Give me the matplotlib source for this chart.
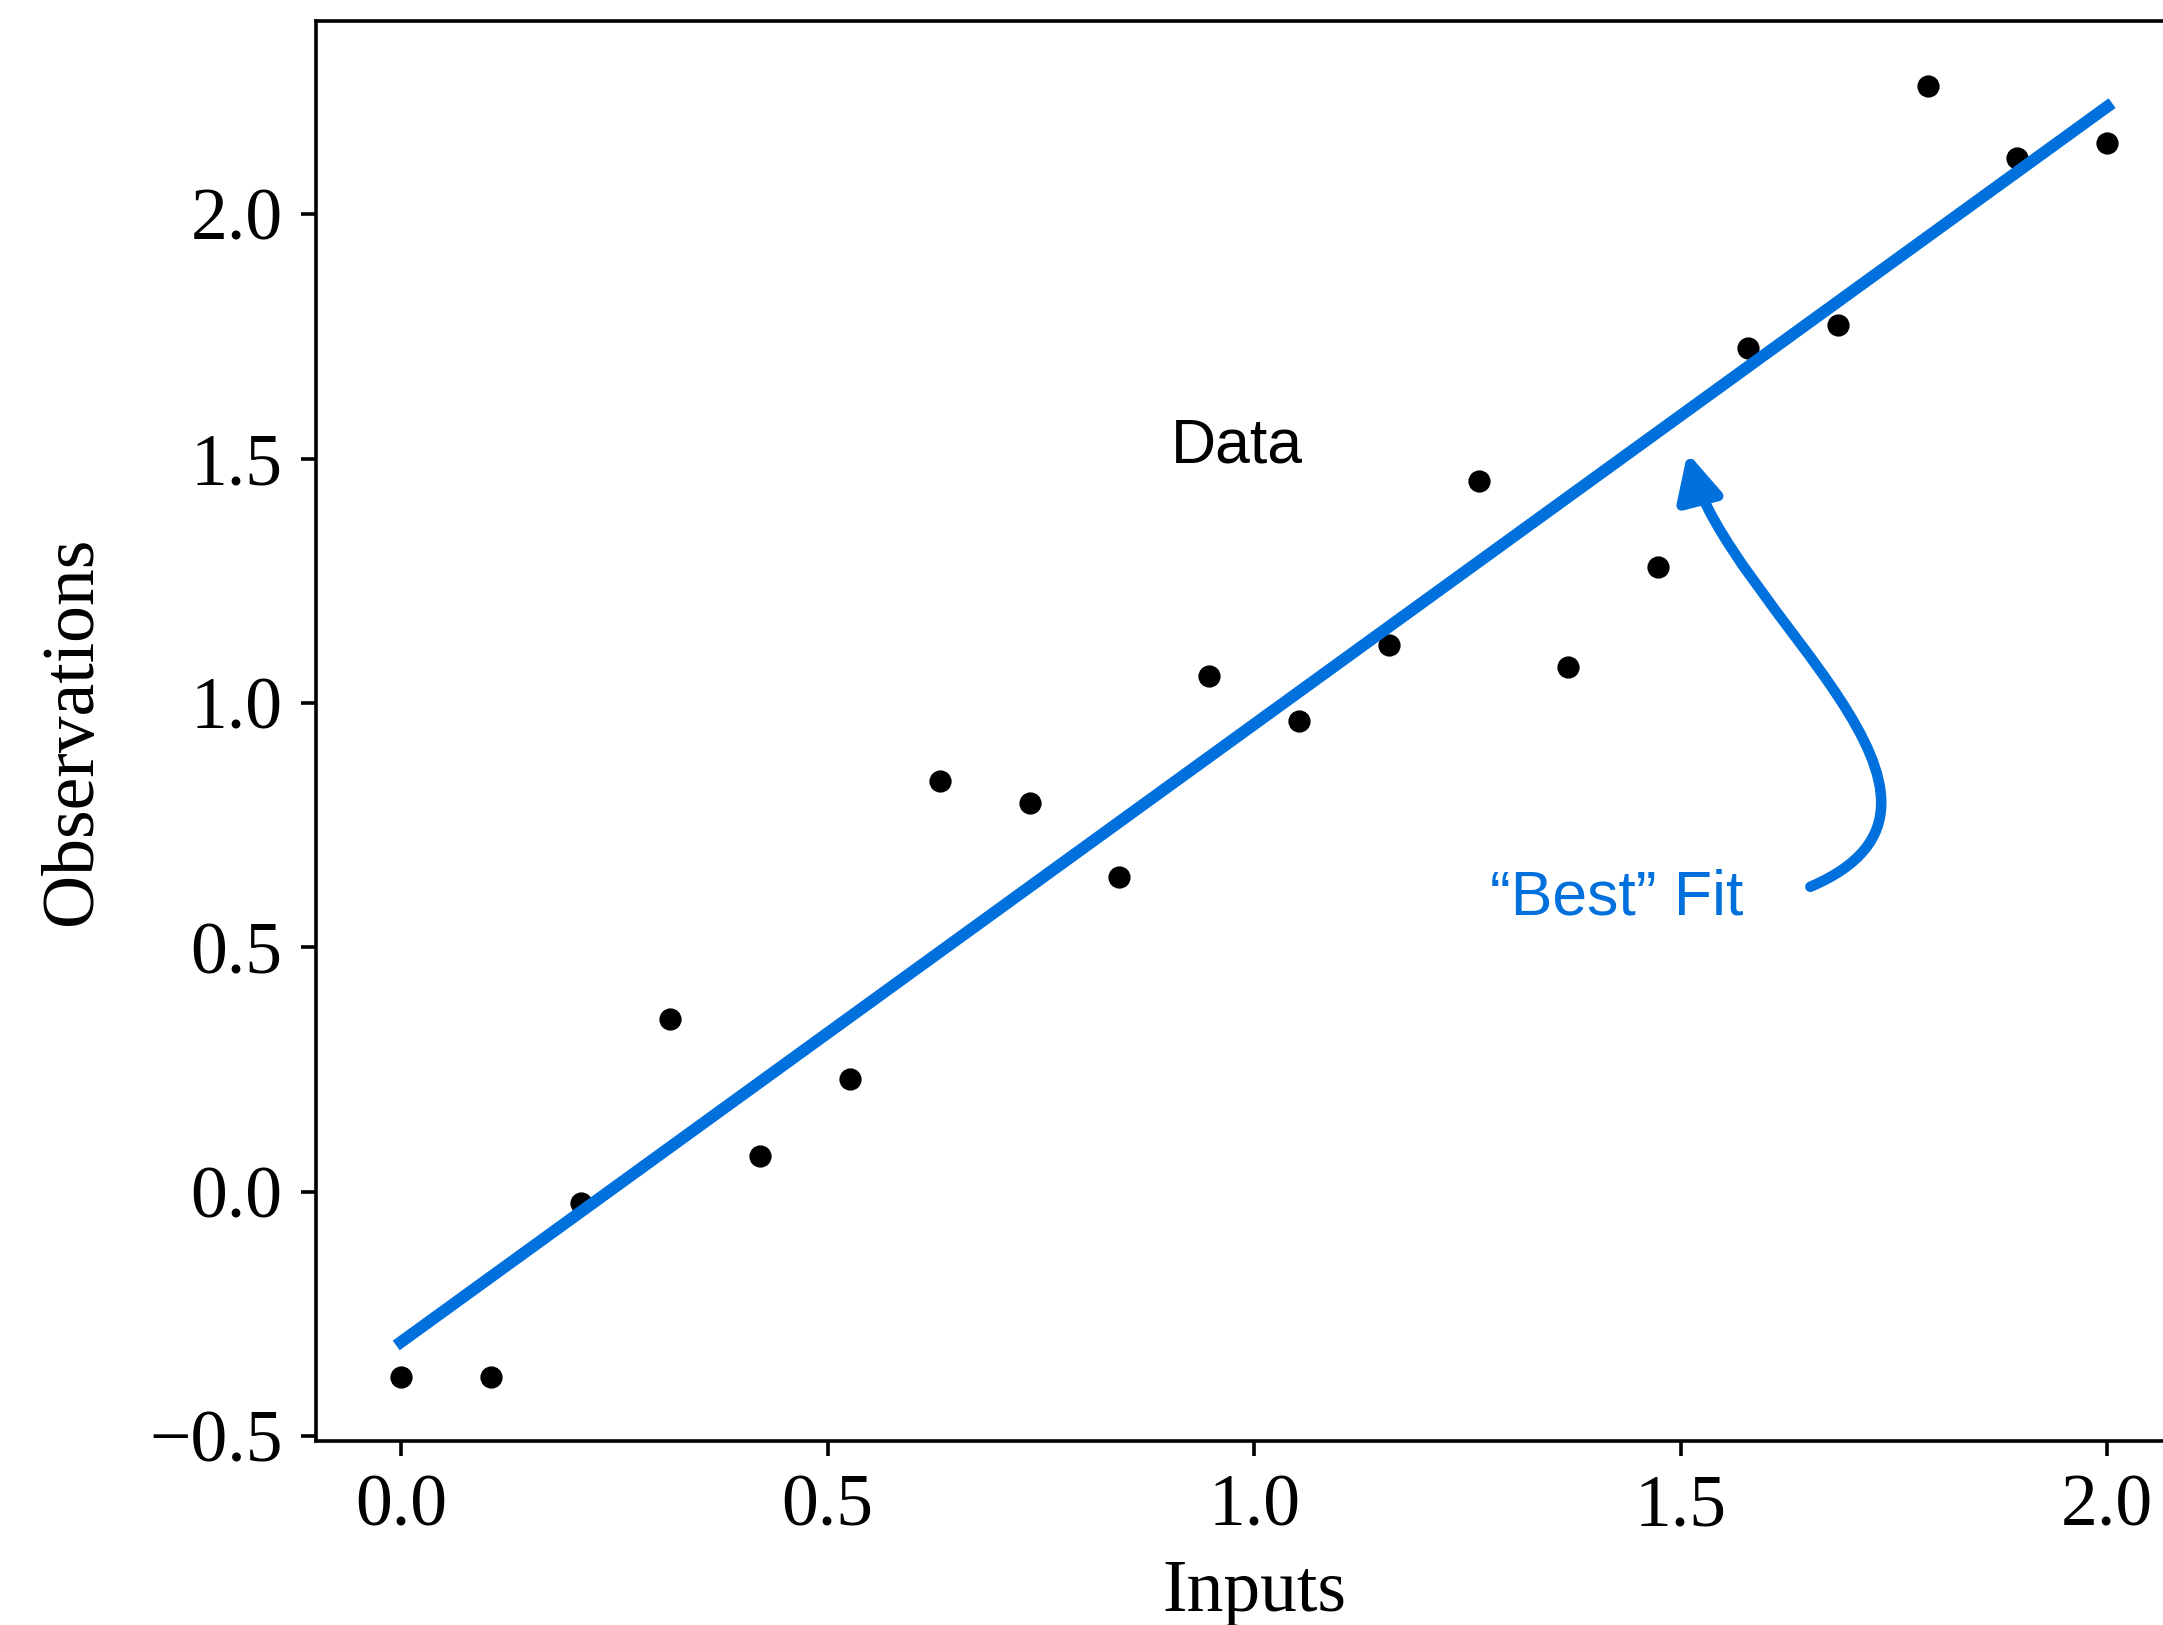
import numpy as np
import matplotlib
matplotlib.use('Agg')
import matplotlib.pyplot as plt
from matplotlib.patches import FancyArrowPatch
from matplotlib.path import Path

# Data
inputs = np.linspace(0, 2, 20)
observations = [-0.378, -0.378, -0.022, 0.354, 0.073, 0.231, 0.840, 0.796,
                0.645, 1.055, 0.963, 1.119, 1.455, 1.074, 1.278, 1.726,
                1.773, 2.262, 2.115, 2.146]
fit_x = [0.0, 2.0]

blue = '#0071DC'

# Least squares fit
slope, intercept = np.polyfit(inputs, observations, 1)
fit_y = [slope * v + intercept for v in fit_x]

plt.rcParams['font.family'] = ['Liberation Serif', 'DejaVu Serif']

fig = plt.figure(figsize=(10.815, 8.125), dpi=200)
# axes runs past the right edge of the figure, like the reference crop
ax = fig.add_axes([0.14596, 0.1132, 0.8677, 0.8738])

ax.plot(inputs, observations, 'o', color='black', markersize=7)
ax.plot(fit_x, fit_y, color=blue, linewidth=4.3)

ax.set_xlim(-0.1, 2.1)
ax.set_ylim(-0.51, 2.395)
ax.set_xticks([0.0, 0.5, 1.0, 1.5, 2.0])
ax.set_yticks([-0.5, 0.0, 0.5, 1.0, 1.5, 2.0])

for s in ax.spines.values():
    s.set_linewidth(1.3)
ax.tick_params(labelsize=26.5, length=5.5, width=1.3, pad=6.5)
ax.set_xlabel('Inputs', fontsize=26.5, labelpad=6.5)
ax.set_ylabel('Observations', fontsize=26.5, labelpad=15)

# Annotations
sans = ['Liberation Sans', 'DejaVu Sans']
ax.text(0.902, 1.493, 'Data', fontsize=22.5, family=sans, color='black')
ax.text(1.425, 0.568, '\u201cBest\u201d Fit', fontsize=22.5, family=sans,
        color=blue, ha='center')

verts = [(1.652, 0.624), (1.886, 0.798), (1.556, 1.188), (1.508, 1.512)]
codes = [Path.MOVETO, Path.CURVE4, Path.CURVE4, Path.CURVE4]
arrow = FancyArrowPatch(path=Path(verts, codes), arrowstyle='-|>',
                        mutation_scale=34, color=blue, linewidth=3.8,
                        transform=ax.transData)
ax.add_patch(arrow)

fig.savefig('out.png', dpi=200)
